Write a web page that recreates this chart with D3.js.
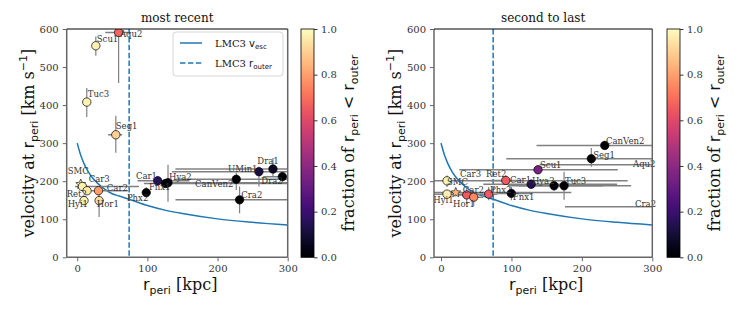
<!DOCTYPE html>
<html><head><meta charset="utf-8">
<script src="https://cdn.jsdelivr.net/npm/d3@7"></script>
<style>body{margin:0;background:#fff} svg{display:block}</style>
</head><body><svg id="c" width="742" height="313"></svg>
<script>
// ---------- data ----------
const xTickValues = [0, 100, 200, 300];
const yTickValues = [0, 100, 200, 300, 400, 500, 600];
const cbTickValues = [0, 0.2, 0.4, 0.6, 0.8, 1.0];
const rOuter = 74;
const vescR = [0, 5, 10, 15, 20, 30, 40, 50, 60, 75, 100, 125, 150, 200, 250, 300];
const vescV = [300, 268, 245, 227, 213, 193, 178, 167, 161, 152, 136, 124, 115, 101, 92, 85];

// most recent
const recentNames = ["Aqu2","Scu1","Tuc3","Seg1","SMC","Ret2","Car3","Car2","Hyi1","Hor1","Phx2","Car1","Fnx1","Hya2","CanVen2","UMin1","Dra1","Dra2","Cra2"];
const recentR   = [59, 26.5, 13.6, 55, 5, 7.4, 14, 30.3, 9.7, 31.2, 98.4, 114.7, 126, 129.4, 226.7, 259, 279, 292.4, 231.4];
const recentV   = [591, 556, 408, 322, 192, 186, 175, 175, 149, 149, 170, 201, 194, 196, 205, 225, 232, 212, 151];
const recentRLo = [40, 23, 12, 44, 3, -3, 11, 20, 7, 27, 93, 86, 95, 117, 140, 135, 140, 265, 140];
const recentRHi = [73, 30, 16, 64, 8, 88, 18, 72, 13, 35, 104, 160, 320, 320, 320, 320, 320, 310, 320];
const recentVLo = [458, 530, 369, 275, 186, 180, 168, 165, 142, 106, 158, 190, 185, 146, 177, 186, 212, 195, 116];
const recentVHi = [620, 580, 445, 372, 198, 192, 182, 186, 156, 169, 184, 213, 205, 243, 222, 238, 261, 226, 186];
const recentFrac = [0.68, 0.97, 0.97, 0.9, 0.97, 0.97, 0.95, 0.8, 0.97, 0.93, 0.0, 0.15, 0.0, 0.02, 0.0, 0.12, 0.07, 0.0, 0.0];
const recentLabelR = [60.8, 27.9, 15, 55, -13.6, -15, 16.4, 42.2, -13.6, 27.9, 70.8, 83.7, 102.2, 130.8, 168, 215, 256.7, 262.4, 233.8];
const recentLabelV = [580, 567, 422, 337, 219, 158, 197, 174, 131, 131, 149, 207, 176, 202, 186, 223, 244, 191.6, 157];

// second to last
const secondNames = ["Car3","Hyi1","SMC","Hor1","Car2","Phx2","Ret2","Fnx1","Car1","Hya2","Scu1","Tuc3","Seg1","CanVen2","Aqu2","Cra2"];
const secondR   = [8.5, 8.5, 20.9, 36.5, 46.4, 67.7, 91.9, 99.8, 128, 160.5, 137.7, 174.7, 213.4, 232.5, 360, 340];
const secondV   = [201, 166, 170, 164, 158, 166, 202, 168, 192, 188, 230, 188, 259, 294, 243, 133];
const secondRLo = [-10, -10, -10, 25, 35, 55, 70, 80, 60, 110, 26, 95, 92.6, 135.6, 140, 176];
const secondRHi = [265, 60, 185, 50, 60, 80, 115, 130, 250, 230, 251, 270, 400, 400, 400, 400];
const secondVLo = [185, 158, 160, 140, 135, 150, 190, 150, 180, 175, 220, 151, 238, 285, 235, 125];
const secondVHi = [215, 175, 178, 185, 175, 185, 215, 185, 205, 200, 240, 225, 287, 305, 250, 140];
const secondFrac = [0.97, 0.97, 0.85, 0.65, 0.75, 0.65, 0.65, 0.03, 0.15, 0.02, 0.35, 0.0, 0.0, 0.0, 0.0, 0.0];
const secondLabelR = [27, -11, 8.5, 17, 31, 69.6, 64, 102, 98, 129, 140.6, 176, 216, 234.3, 272.6, 275.5];
const secondLabelV = [212, 143, 190, 131, 168, 168, 210, 150, 194, 192, 234, 192, 260, 298, 238, 133];

// ---------- drawing ----------
const svg = d3.select('#c');
const SERIF = "'DejaVu Serif', serif", SANS = "'DejaVu Sans', sans-serif";
const TOP = 29, BOT = 257.3;
const y = d3.scaleLinear([0, 600], [BOT, TOP]);
const cmap = d3.interpolateMagma;

const grad = svg.append('defs').append('linearGradient').attr('id', 'magma')
  .attr('x1', 0).attr('y1', 1).attr('x2', 0).attr('y2', 0);
d3.range(0, 1.0001, 0.02).forEach(t => grad.append('stop').attr('offset', t).attr('stop-color', cmap(t)));

function rich(sel, parts) {
  parts.forEach(p => {
    const ts = sel.append('tspan').text(p.t).attr('font-family', p.f || SANS).attr('font-size', p.s);
    if (p.dy) ts.attr('dy', p.dy);
  });
}

function starPath(cx, cy, R) {
  const r = R * 0.45; let d = '';
  for (let k = 0; k < 10; k++) {
    const a = -Math.PI / 2 + k * Math.PI / 5, rr = k % 2 ? r : R;
    d += (k ? 'L' : 'M') + (cx + rr * Math.cos(a)).toFixed(2) + ',' + (cy + rr * Math.sin(a)).toFixed(2);
  }
  return d + 'Z';
}

function panel(o) {
  const x = d3.scaleLinear(o.domain, [o.left, o.right]);
  const clipId = 'clip' + o.id;
  svg.append('clipPath').attr('id', clipId).append('rect')
    .attr('x', o.left).attr('y', TOP).attr('width', o.right - o.left).attr('height', BOT - TOP);
  const plot = svg.append('g').attr('clip-path', `url(#${clipId})`);

  plot.append('path').datum(vescR.map((r, i) => [r, vescV[i]]))
    .attr('d', d3.line().x(d => x(d[0])).y(d => y(d[1])).curve(d3.curveMonotoneX))
    .attr('fill', 'none').attr('stroke', '#1f77b4').attr('stroke-width', 1.5);
  plot.append('line').attr('x1', x(rOuter)).attr('x2', x(rOuter)).attr('y1', TOP).attr('y2', BOT)
    .attr('stroke', '#1f77b4').attr('stroke-width', 1.5).attr('stroke-dasharray', '5.5,2.4');

  const n = o.names.length;
  for (let i = 0; i < n; i++) {
    plot.append('line').attr('x1', x(o.rLo[i])).attr('x2', x(o.rHi[i])).attr('y1', y(o.v[i])).attr('y2', y(o.v[i]))
      .attr('stroke', '#808080').attr('stroke-width', 1.5);
    plot.append('line').attr('x1', x(o.r[i])).attr('x2', x(o.r[i])).attr('y1', y(o.vLo[i])).attr('y2', y(o.vHi[i]))
      .attr('stroke', '#808080').attr('stroke-width', 1.2);
  }
  for (let i = 0; i < n; i++) {
    const cx = x(o.r[i]), cy = y(o.v[i]);
    if (o.names[i] === 'SMC') {
      plot.append('path').attr('d', starPath(cx, cy, 5.2)).attr('fill', cmap(o.frac[i]))
        .attr('stroke', '#000').attr('stroke-width', 0.6);
    } else {
      plot.append('circle').attr('cx', cx).attr('cy', cy).attr('r', 4.2).attr('fill', cmap(o.frac[i]))
        .attr('stroke', '#000').attr('stroke-width', 0.7);
    }
  }
  for (let i = 0; i < n; i++) {
    svg.append('text').attr('x', x(o.labelR[i])).attr('y', y(o.labelV[i]))
      .attr('font-family', SERIF).attr('font-size', 8.5).attr('fill', '#333').text(o.names[i]);
  }

  const sp = svg.append('g');
  sp.append('line').attr('x1', o.left).attr('x2', o.left).attr('y1', TOP).attr('y2', BOT).attr('stroke', '#666').attr('stroke-width', 1.5);
  sp.append('line').attr('x1', o.right).attr('x2', o.right).attr('y1', TOP).attr('y2', BOT).attr('stroke', '#666').attr('stroke-width', 1.5);
  sp.append('line').attr('x1', o.left).attr('x2', o.right).attr('y1', BOT).attr('y2', BOT).attr('stroke', '#666').attr('stroke-width', 1.5);
  sp.append('line').attr('x1', o.left).attr('x2', o.right).attr('y1', TOP).attr('y2', TOP).attr('stroke', '#000').attr('stroke-width', 1);

  const ax = svg.append('g').attr('transform', `translate(0,${BOT})`)
    .call(d3.axisBottom(x).tickValues(xTickValues).tickSize(4).tickPadding(4).tickFormat(d3.format('d')));
  const ay = svg.append('g').attr('transform', `translate(${o.left},0)`)
    .call(d3.axisLeft(y).tickValues(yTickValues).tickSize(4).tickPadding(4).tickFormat(d3.format('d')));
  [ax, ay].forEach(a => {
    a.select('.domain').remove();
    a.selectAll('line').attr('stroke', '#666').attr('stroke-width', 1);
    a.selectAll('text').attr('font-family', SERIF).attr('font-size', 10).attr('fill', '#333');
  });

  svg.append('text').attr('x', (o.left + o.right) / 2).attr('y', 22).attr('text-anchor', 'middle')
    .attr('font-family', SERIF).attr('font-size', 12).attr('fill', '#111').text(o.title);
  const xl = svg.append('text').attr('x', (o.left + o.right) / 2 + 3).attr('y', 290).attr('text-anchor', 'middle').attr('fill', '#111');
  rich(xl, [{t: 'r', s: 16}, {t: 'peri', s: 11, dy: 4}, {t: ' [kpc]', s: 16, dy: -4, f: SERIF}]);
  const yl = svg.append('text').attr('transform', `translate(${o.left - 33},${(TOP + BOT) / 2}) rotate(-90)`)
    .attr('text-anchor', 'middle').attr('fill', '#111');
  rich(yl, [{t: 'velocity at ', s: 16, f: SERIF}, {t: 'r', s: 16}, {t: 'peri', s: 11, dy: 4},
            {t: ' [km s', s: 16, dy: -4, f: SERIF}, {t: '\u22121', s: 11, dy: -7}, {t: ']', s: 16, dy: 7, f: SERIF}]);

  const cb = svg.append('g');
  cb.append('rect').attr('x', o.cbX).attr('y', TOP).attr('width', 13).attr('height', BOT - TOP)
    .attr('fill', 'url(#magma)').attr('stroke', '#000').attr('stroke-width', 0.8);
  const cy = d3.scaleLinear([0, 1], [BOT, TOP]);
  const ca = svg.append('g').attr('transform', `translate(${o.cbX + 13},0)`)
    .call(d3.axisRight(cy).tickValues(cbTickValues).tickSize(3.5).tickPadding(3.5).tickFormat(d3.format('.1f')));
  ca.select('.domain').remove();
  ca.selectAll('line').attr('stroke', '#333');
  ca.selectAll('text').attr('font-family', SERIF).attr('font-size', 10).attr('fill', '#333');
  const cl = svg.append('text').attr('transform', `translate(${o.cbX + 53},${(TOP + BOT) / 2}) rotate(-90)`)
    .attr('text-anchor', 'middle').attr('fill', '#111');
  rich(cl, [{t: 'fraction of ', s: 16, f: SERIF}, {t: 'r', s: 16}, {t: 'peri', s: 11, dy: 4},
            {t: ' < r', s: 16, dy: -4}, {t: 'outer', s: 11, dy: 4}]);
}

panel({id: 'L', domain: [-15, 300], left: 66.7, right: 287.7, title: 'most recent', cbX: 301,
  names: recentNames, r: recentR, v: recentV, rLo: recentRLo, rHi: recentRHi, vLo: recentVLo, vHi: recentVHi,
  frac: recentFrac, labelR: recentLabelR, labelV: recentLabelV});
panel({id: 'R', domain: [-10, 300], left: 434, right: 652.3, title: 'second to last', cbX: 667,
  names: secondNames, r: secondR, v: secondV, rLo: secondRLo, rHi: secondRHi, vLo: secondVLo, vHi: secondVHi,
  frac: secondFrac, labelR: secondLabelR, labelV: secondLabelV});

const lg = svg.append('g');
lg.append('rect').attr('x', 173).attr('y', 32).attr('width', 110).attr('height', 44).attr('rx', 3)
  .attr('fill', '#fff').attr('fill-opacity', 0.8).attr('stroke', '#ccc').attr('stroke-width', 0.8);
lg.append('line').attr('x1', 180).attr('x2', 202).attr('y1', 43).attr('y2', 43).attr('stroke', '#1f77b4').attr('stroke-width', 1.5);
lg.append('line').attr('x1', 180).attr('x2', 202).attr('y1', 63).attr('y2', 63).attr('stroke', '#1f77b4').attr('stroke-width', 1.5).attr('stroke-dasharray', '5.5,2.4');
const t1 = lg.append('text').attr('x', 215).attr('y', 47).attr('fill', '#111');
rich(t1, [{t: 'LMC3 ', s: 10, f: SERIF}, {t: 'v', s: 10}, {t: 'esc', s: 7, dy: 2}]);
const t2 = lg.append('text').attr('x', 215).attr('y', 67).attr('fill', '#111');
rich(t2, [{t: 'LMC3 ', s: 10, f: SERIF}, {t: 'r', s: 10}, {t: 'outer', s: 7, dy: 2}]);
</script></body></html>
